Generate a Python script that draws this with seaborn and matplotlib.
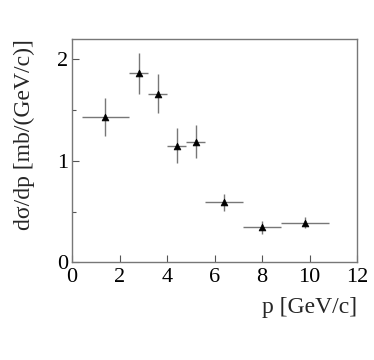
import matplotlib
matplotlib.use("Agg")
import matplotlib.pyplot as plt
import seaborn as sns
import pandas as pd
from matplotlib.ticker import MultipleLocator

p = [1.4, 2.8, 3.6, 4.4, 5.2, 6.4, 8.0, 9.8]
p_lo = [0.4, 2.4, 3.2, 4.0, 4.8, 5.6, 7.2, 8.8]
p_hi = [2.4, 3.2, 4.0, 4.8, 5.6, 7.2, 8.8, 10.8]
dsig = [1.43, 1.86, 1.66, 1.15, 1.19, 0.59, 0.345, 0.39]
dsig_err = [0.19, 0.20, 0.19, 0.17, 0.16, 0.08, 0.065, 0.055]

sns.set_style("ticks")
plt.rcParams['font.family'] = ['Liberation Serif', 'DejaVu Serif']
plt.rcParams['mathtext.fontset'] = 'stix'

df = pd.DataFrame({"p": p, "dsig": dsig})

fig = plt.figure(figsize=(3.74, 3.6), dpi=100)
ax = fig.add_axes([0.193, 0.271, 0.762, 0.621])

xerr = [[c - l for c, l in zip(p, p_lo)], [h - c for c, h in zip(p, p_hi)]]
ax.errorbar(p, dsig, xerr=xerr, yerr=dsig_err, fmt='none', ecolor='#777777',
            elinewidth=1.0, capsize=0, zorder=2)
sns.scatterplot(data=df, x="p", y="dsig", marker='^', color='black', s=24,
                edgecolor='black', linewidth=0.5, ax=ax, zorder=3)

ax.set_xlim(0, 12)
ax.set_ylim(0, 2.2)
ax.xaxis.set_major_locator(MultipleLocator(2))
ax.yaxis.set_major_locator(MultipleLocator(1))
ax.yaxis.set_minor_locator(MultipleLocator(0.5))
ax.tick_params(axis='both', which='both', direction='in', colors='#555555',
               labelcolor='black', labelsize=16)
ax.tick_params(axis='both', which='major', length=5, width=0.8)
ax.tick_params(axis='y', which='minor', length=3, width=0.8)
ax.tick_params(axis='x', pad=4)
ax.tick_params(axis='y', pad=3)
for s in ax.spines.values():
    s.set_color('#777777')
    s.set_linewidth(1.0)

ax.set_xlabel("p [GeV/c]", fontsize=17, loc='right', labelpad=7)
ax.set_ylabel("d\u03c3/dp [mb/(GeV/c)]", fontsize=17, loc='top', labelpad=16)

fig.savefig("out.png", dpi=100)
